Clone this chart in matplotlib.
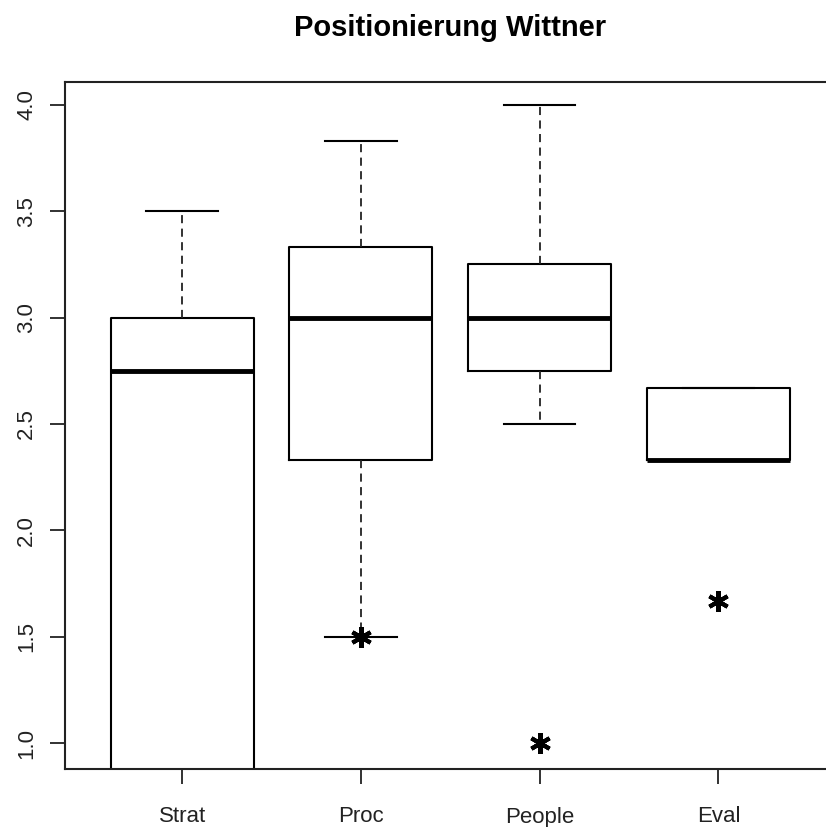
import matplotlib
matplotlib.use("Agg")
import matplotlib.pyplot as plt

plt.rcParams['font.family'] = ['Liberation Sans', 'DejaVu Sans']

# box statistics
labels = ["Strat", "Proc", "People", "Eval"]
q1 = [0.5, 2.33, 2.75, 2.33]
med = [2.75, 3.0, 3.0, 2.33]
q3 = [3.0, 3.33, 3.25, 2.67]
wlo = [0.5, 1.5, 2.5, 2.33]
whi = [3.5, 3.83, 4.0, 2.67]
outliers = [[], [1.5], [1.0], [1.67]]

stats = []
for i in range(len(labels)):
    stats.append(dict(label=labels[i], q1=q1[i], med=med[i], q3=q3[i],
                      whislo=wlo[i], whishi=whi[i], fliers=outliers[i]))

fig = plt.figure(figsize=(8.26, 8.27), dpi=100)
ax = fig.add_axes([65/826, 1 - 769/827, (840 - 65)/826, (769 - 82)/827])

ax.bxp(stats, positions=[1, 2, 3, 4], widths=0.8, capwidths=0.4,
       boxprops=dict(color='black', linewidth=1.5),
       medianprops=dict(color='black', linewidth=3.5, solid_capstyle='butt'),
       whiskerprops=dict(color='#222222', linewidth=1.3, linestyle=(0, (4.5, 3))),
       capprops=dict(color='black', linewidth=1.5),
       flierprops=dict(marker=(6, 2, 0), markersize=15, markeredgewidth=3,
                       markeredgecolor='black', markerfacecolor='black'))

ax.set_xlim(0.345, 4.68)
ax.set_ylim(0.878, 4.108)
ax.set_yticks([1.0, 1.5, 2.0, 2.5, 3.0, 3.5, 4.0])
ax.set_yticklabels(["1.0", "1.5", "2.0", "2.5", "3.0", "3.5", "4.0"],
                   rotation=90, va='center')
ax.tick_params(axis='both', length=11, width=1.3, labelsize=16,
               colors='#222222')
ax.tick_params(axis='x', pad=16)
ax.tick_params(axis='y', pad=9)
for s in ax.spines.values():
    s.set_linewidth(1.5)
    s.set_color('#222222')

fig.text(450/826, 1 - 28/827, "Positionierung Wittner", ha='center',
         va='center', fontsize=21, fontweight='bold')

fig.savefig("out.png", dpi=100)
